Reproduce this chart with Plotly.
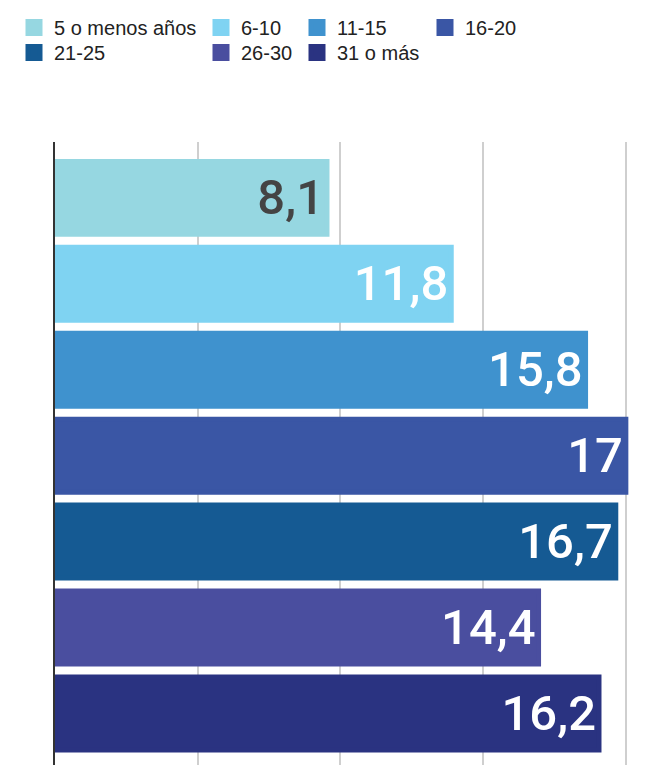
import plotly.graph_objects as go

categories = ["5 o menos años", "6-10", "11-15", "16-20", "21-25", "26-30", "31 o más"]
values = [8.1, 11.8, 15.8, 17, 16.7, 14.4, 16.2]
colors = ["#96D7E1", "#7FD3F2", "#3F92CE", "#3A56A5", "#155A93", "#4A4E9F", "#2A3381"]
label_colors = ["#444444", "white", "white", "white", "white", "white", "white"]

FONT = "Liberation Sans, Arial, sans-serif"
LABEL_FONT = "Roboto, Liberation Sans, Arial, sans-serif"
W, H = 656, 765

# legend swatch centres (px) for each item: 4 columns x 2 rows
leg_cx = [34, 221, 317, 445, 34, 221, 317]
leg_cy = [27, 27, 27, 27, 52, 52, 52]

fig = go.Figure()
layout_legends = {}
for i, (cat, val, col, lc) in enumerate(zip(categories, values, colors, label_colors)):
    key = "legend" if i == 0 else f"legend{i+1}"
    txt = (f"{val:g}").replace(".", ",")
    fig.add_trace(go.Bar(
        y=[cat], x=[val], orientation="h", name=cat,
        marker=dict(color=col, line=dict(color=col, width=5)),
        text=[txt], textposition="inside", insidetextanchor="end",
        textfont=dict(family=LABEL_FONT, size=49, color=lc, weight=500),
        cliponaxis=False, legend=key, hoverinfo="x+name",
    ))
    layout_legends[key] = dict(
        orientation="v", xref="container", yref="container",
        xanchor="left", yanchor="top",
        x=(leg_cx[i] - 20) / W, y=1 - (leg_cy[i] - 19) / H,
        font=dict(family=FONT, size=20, color="#222222"),
        bgcolor="rgba(0,0,0,0)", borderwidth=0,
    )

fig.update_layout(
    width=W, height=H,
    margin=dict(l=55, r=10, t=142, b=0, autoexpand=False),
    paper_bgcolor="white", plot_bgcolor="white",
    barmode="overlay", bargap=0.151,
    showlegend=True,
    xaxis=dict(range=[0, 17.6], tick0=0, dtick=4.25, showgrid=True,
               gridcolor="#cfcfcf", gridwidth=1.5, zeroline=False,
               showticklabels=False, ticks="", fixedrange=True),
    yaxis=dict(categoryorder="array", categoryarray=categories,
               range=[6.6, -0.65], showticklabels=False, ticks="",
               showline=True, linecolor="#333333", linewidth=2,
               showgrid=False, zeroline=False, fixedrange=True),
    **layout_legends,
)

fig.write_html("out.html", config={"displayModeBar": False},
               post_script="document.body.style.margin='0';document.body.style.overflow='hidden';")
